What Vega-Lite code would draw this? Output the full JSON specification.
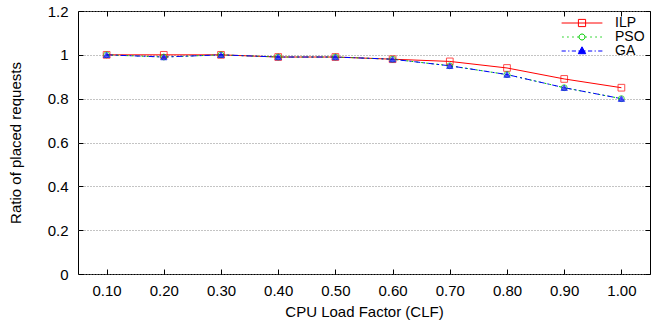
{
  "$schema": "https://vega.github.io/schema/vega-lite/v6.json",
  "width": 572,
  "height": 263,
  "autosize": {"type": "none"},
  "padding": {"left": 78, "top": 11, "right": 10, "bottom": 48},
  "background": "white",
  "config": {
    "font": "Liberation Sans",
    "view": {"stroke": "black", "strokeWidth": 1},
    "axis": {
      "domain": false,
      "tickColor": "black",
      "tickWidth": 1,
      "tickSize": -5,
      "labelColor": "black",
      "labelFontSize": 15,
      "labelFont": "Liberation Sans",
      "titleFont": "Liberation Sans",
      "titleFontSize": 15,
      "titleFontWeight": "normal",
      "titleColor": "black"
    },
    "legend": {
      "labelFont": "Liberation Sans",
      "labelFontSize": 14,
      "labelColor": "black"
    }
  },
  "datasets": {
    "ratios": [
      {"clf": "0.10", "series": "ILP", "ratio": 1.0},
      {"clf": "0.20", "series": "ILP", "ratio": 1.0},
      {"clf": "0.30", "series": "ILP", "ratio": 1.0},
      {"clf": "0.40", "series": "ILP", "ratio": 0.99},
      {"clf": "0.50", "series": "ILP", "ratio": 0.99},
      {"clf": "0.60", "series": "ILP", "ratio": 0.98},
      {"clf": "0.70", "series": "ILP", "ratio": 0.97},
      {"clf": "0.80", "series": "ILP", "ratio": 0.94},
      {"clf": "0.90", "series": "ILP", "ratio": 0.89},
      {"clf": "1.00", "series": "ILP", "ratio": 0.85},
      {"clf": "0.10", "series": "PSO", "ratio": 1.0},
      {"clf": "0.20", "series": "PSO", "ratio": 0.99},
      {"clf": "0.30", "series": "PSO", "ratio": 1.0},
      {"clf": "0.40", "series": "PSO", "ratio": 0.99},
      {"clf": "0.50", "series": "PSO", "ratio": 0.99},
      {"clf": "0.60", "series": "PSO", "ratio": 0.98},
      {"clf": "0.70", "series": "PSO", "ratio": 0.95},
      {"clf": "0.80", "series": "PSO", "ratio": 0.91},
      {"clf": "0.90", "series": "PSO", "ratio": 0.85},
      {"clf": "1.00", "series": "PSO", "ratio": 0.80},
      {"clf": "0.10", "series": "GA", "ratio": 1.0},
      {"clf": "0.20", "series": "GA", "ratio": 0.99},
      {"clf": "0.30", "series": "GA", "ratio": 1.0},
      {"clf": "0.40", "series": "GA", "ratio": 0.99},
      {"clf": "0.50", "series": "GA", "ratio": 0.99},
      {"clf": "0.60", "series": "GA", "ratio": 0.98},
      {"clf": "0.70", "series": "GA", "ratio": 0.95},
      {"clf": "0.80", "series": "GA", "ratio": 0.91},
      {"clf": "0.90", "series": "GA", "ratio": 0.85},
      {"clf": "1.00", "series": "GA", "ratio": 0.80}
    ]
  },
  "data": {"name": "ratios"},
  "resolve": {"axis": {"x": "independent", "y": "independent"}},
  "layer": [
    {
      "transform": [{"filter": "datum.series === 'ILP'"}],
      "mark": {"type": "line", "strokeWidth": 1, "color": "#ff0000"},
      "encoding": {
        "x": {
          "field": "clf", "type": "ordinal",
          "scale": {"type": "point", "padding": 0.5},
          "axis": {"orient": "bottom", "title": "CPU Load Factor (CLF)", "labelAngle": 0, "labelPadding": 14, "titlePadding": 6, "grid": false}
        },
        "y": {
          "field": "ratio", "type": "quantitative",
          "scale": {"domain": [0, 1.2], "nice": false},
          "axis": {"orient": "left", "title": "Ratio of placed requests", "values": [0, 0.2, 0.4, 0.6, 0.8, 1, 1.2], "format": "~g", "grid": true, "gridColor": "#888888", "gridDash": [1, 2], "labelPadding": 15, "titlePadding": 24}
        }
      }
    },
    {
      "transform": [{"filter": "datum.series === 'PSO'"}],
      "mark": {"type": "line", "strokeWidth": 1, "color": "#00cc00", "strokeDash": [2, 3]},
      "encoding": {
        "x": {"field": "clf", "type": "ordinal", "axis": null},
        "y": {"field": "ratio", "type": "quantitative", "axis": null}
      }
    },
    {
      "transform": [{"filter": "datum.series === 'GA'"}],
      "mark": {"type": "line", "strokeWidth": 1, "color": "#0000ff", "strokeDash": [6, 3, 2, 3]},
      "encoding": {
        "x": {"field": "clf", "type": "ordinal", "axis": null},
        "y": {"field": "ratio", "type": "quantitative", "axis": null}
      }
    },
    {
      "transform": [{"filter": "datum.series === 'ILP'"}],
      "mark": {"type": "point", "shape": "square", "strokeWidth": 1, "size": 45, "stroke": "#ff0000", "fill": "transparent"},
      "encoding": {
        "x": {"field": "clf", "type": "ordinal", "axis": {"orient": "top", "labels": false, "title": null, "grid": false}},
        "y": {"field": "ratio", "type": "quantitative", "axis": {"orient": "right", "labels": false, "title": null, "grid": false, "values": [0, 0.2, 0.4, 0.6, 0.8, 1, 1.2]}}
      }
    },
    {
      "transform": [{"filter": "datum.series === 'PSO'"}],
      "mark": {"type": "point", "shape": "circle", "strokeWidth": 1, "size": 35, "stroke": "#00cc00", "fill": "transparent"},
      "encoding": {
        "x": {"field": "clf", "type": "ordinal", "axis": null},
        "y": {"field": "ratio", "type": "quantitative", "axis": null}
      }
    },
    {
      "transform": [{"filter": "datum.series === 'GA'"}],
      "mark": {"type": "point", "shape": "triangle-up", "strokeWidth": 1, "size": 40, "stroke": "#0000ff", "fill": "#0000ff"},
      "encoding": {
        "x": {"field": "clf", "type": "ordinal", "axis": null},
        "y": {"field": "ratio", "type": "quantitative", "axis": null}
      }
    },
    {
      "mark": {"type": "point", "opacity": 0, "strokeWidth": 1},
      "encoding": {
        "x": {"field": "clf", "type": "ordinal", "axis": null},
        "y": {"field": "ratio", "type": "quantitative", "axis": null},
        "stroke": {
          "field": "series", "type": "nominal", "sort": ["ILP", "PSO", "GA"],
          "scale": {"domain": ["ILP", "PSO", "GA"], "range": ["#ff0000", "#00cc00", "#0000ff"]},
          "legend": {"title": null, "orient": "top-right", "symbolOpacity": 1}
        },
        "fill": {
          "field": "series", "type": "nominal", "sort": ["ILP", "PSO", "GA"],
          "scale": {"domain": ["ILP", "PSO", "GA"], "range": ["rgba(255,255,255,0)", "rgba(255,255,255,0)", "#0000ff"]},
          "legend": {"title": null, "orient": "top-right", "symbolOpacity": 1}
        },
        "shape": {
          "field": "series", "type": "nominal", "sort": ["ILP", "PSO", "GA"],
          "scale": {
            "domain": ["ILP", "PSO", "GA"],
            "range": [
              "M-3.4,0H3.4M-0.6,-0.6H0.6V0.6H-0.6Z",
              "M-3.3,0h0.25M-2.47,0h0.25M-1.63,0h0.25M-0.8,0h0.25M0.55,0h0.25M1.38,0h0.25M2.22,0h0.25M3.05,0h0.25M0.5,0A0.5,0.5 0 1 1 -0.5,0A0.5,0.5 0 1 1 0.5,0Z",
              "M-3.4,0H-2.7M-2.3,0H-2.1M-1.7,0H-1.0M-0.6,0H0.6M1.0,0H1.7M2.1,0H2.3M2.7,0H3.4M0,-0.7L0.62,0.45H-0.62Z"
            ]
          },
          "legend": {"title": null, "orient": "top-right", "offset": 5, "padding": 0, "symbolSize": 144, "symbolStrokeWidth": 1, "symbolOpacity": 1, "labelOffset": 26, "rowPadding": 0}
        }
      }
    }
  ]
}
